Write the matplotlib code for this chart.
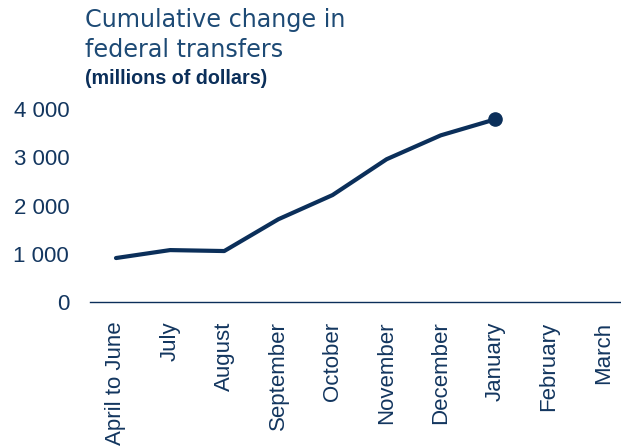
import matplotlib
matplotlib.use("Agg")
import matplotlib.pyplot as plt

categories = ["April to June", "July", "August", "September", "October",
              "November", "December", "January", "February", "March"]
values = [911, 1076, 1056, 1715, 2216, 2959, 3454, 3784]
yticks = [0, 1000, 2000, 3000, 4000]
ytick_labels = ["0", "1 000", "2 000", "3 000", "4 000"]

navy = "#0b2f5a"
text_c = "#13365f"
title_c = "#1d4a75"

fig = plt.figure(figsize=(6.21, 4.46), dpi=100)
ax = fig.add_axes([90/621, 144/446, 1 - 90/621, (302-109)/446])

x = list(range(len(values)))
ax.plot(x, values, color=navy, lw=3.0, solid_capstyle="round", solid_joinstyle="round", clip_on=False)
ax.plot([x[-1]], [values[-1]], "o", color=navy, ms=9.5, clip_on=False)

ax.set_xlim(-0.48, 9.33)
ax.set_ylim(0, 4000)
ax.set_xticks(range(len(categories)))
ax.set_xticklabels(categories, rotation=90, fontsize=16, color=text_c,
                   fontfamily="Liberation Sans", va="top", ha="center")
ax.set_yticks(yticks)
ax.set_yticklabels(ytick_labels, fontsize=16, color=text_c, fontfamily="Liberation Sans")
ax.tick_params(length=0, axis="both")
ax.tick_params(axis="y", pad=15)
ax.tick_params(axis="x", pad=14)
for s in ["top", "right", "left"]:
    ax.spines[s].set_visible(False)
ax.spines["bottom"].set_color(navy)
ax.spines["bottom"].set_linewidth(1.0)

fig.text(85/621, 1 - 20/446, "Cumulative change in", fontsize=17.2, color=title_c,
         fontfamily="DejaVu Sans", va="center", ha="left")
fig.text(85/621, 1 - 50/446, "federal transfers", fontsize=17.2, color=title_c,
         fontfamily="DejaVu Sans", va="center", ha="left")
fig.text(85/621, 1 - 79/446, "(millions of dollars)", fontsize=14.2, color=navy,
         fontfamily="Liberation Sans", fontweight="bold", va="center", ha="left")

fig.savefig("out.png", dpi=100)
